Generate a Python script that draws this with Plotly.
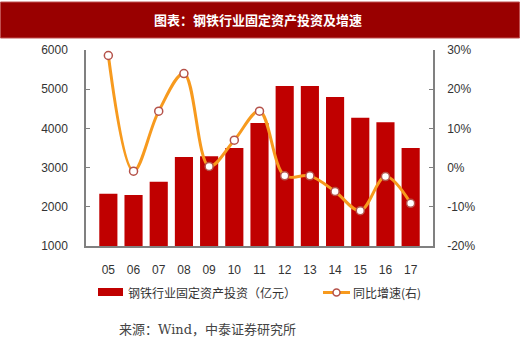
import plotly.graph_objects as go

years = ["05", "06", "07", "08", "09", "10", "11", "12", "13", "14", "15", "16", "17"]
invest = [2330, 2300, 2640, 3270, 3290, 3500, 4140, 5080, 5080, 4800, 4270, 4160, 3500]
growth = [28.6, -0.9, 14.4, 24.0, 0.3, 7.0, 14.4, -2.1, -2.1, -6.1, -11.0, -2.3, -9.1]
left_ticks = [1000, 2000, 3000, 4000, 5000, 6000]
right_ticks = [-20, -10, 0, 10, 20, 30]
bar_name = "钢铁行业固定资产投资（亿元）"
line_name = "同比增速(右)"

W, H = 520, 344
L, R, T, B = 86, 87, 50, 98
pw, ph = W - L - R, H - T - B

BAR_COLOR = "#C00000"
LINE_COLOR = "#F79A1E"
MARK_EDGE = "#B5524A"

def px(x):
    return (x - L) / pw

def py(y):
    return (H - B - y) / ph

fig = go.Figure()
fig.add_trace(go.Bar(x=years, y=invest, name=bar_name, showlegend=False,
                     marker=dict(color=BAR_COLOR, line=dict(width=0)), yaxis="y"))
fig.add_trace(go.Scatter(x=years, y=growth, name=line_name, yaxis="y2", showlegend=False,
                         mode="lines+markers", line=dict(color=LINE_COLOR, width=3, shape="spline", smoothing=1.0),
                         marker=dict(size=8, color="white", line=dict(color=MARK_EDGE, width=1.5))))

axis_common = dict(showline=True, linecolor="#808080", linewidth=1.5, ticks="inside", ticklen=4,
                   tickcolor="#808080", showgrid=False, zeroline=False,
                   tickfont=dict(family="Liberation Sans, Arial", size=12, color="#333333"))

shapes = [
    dict(type="rect", xref="paper", yref="paper", x0=px(0.5), x1=px(519.5), y0=py(38), y1=py(2),
         fillcolor="#990000", line=dict(color="#C05050", width=1), layer="above"),
    dict(type="rect", xref="paper", yref="paper", x0=px(98), x1=px(123), y0=py(296), y1=py(288),
         fillcolor=BAR_COLOR, line=dict(width=0)),
    dict(type="line", xref="paper", yref="paper", x0=px(323), x1=px(350), y0=py(292.5), y1=py(292.5),
         line=dict(color=LINE_COLOR, width=3)),
    dict(type="circle", xref="paper", yref="paper", x0=px(333), x1=px(340), y0=py(296), y1=py(289),
         fillcolor="white", line=dict(color=MARK_EDGE, width=1.5)),
]

annotations = [
    dict(text="<b>图表：钢铁行业固定资产投资及增速</b>", xref="paper", yref="paper", x=px(258), y=py(19),
         xanchor="center", yanchor="middle", showarrow=False,
         font=dict(family="Noto Sans CJK SC", size=13, color="white")),
    dict(text=bar_name, xref="paper", yref="paper", x=px(126), y=py(292.5),
         xanchor="left", yanchor="middle", showarrow=False,
         font=dict(family="Noto Sans CJK SC", size=12, color="#333333")),
    dict(text=line_name, xref="paper", yref="paper", x=px(351), y=py(292.5),
         xanchor="left", yanchor="middle", showarrow=False,
         font=dict(family="Noto Sans CJK SC", size=12, color="#333333")),
    dict(text="来源：Wind，中泰证券研究所", xref="paper", yref="paper", x=px(117), y=py(329),
         xanchor="left", yanchor="middle", showarrow=False,
         font=dict(family="DejaVu Serif, Noto Sans CJK SC", size=13, color="#444444")),
]

fig.update_layout(
    width=W, height=H, margin=dict(l=L, r=R, t=T, b=B),
    paper_bgcolor="white", plot_bgcolor="white",
    bargap=0.28,
    showlegend=False,
    xaxis=dict(showline=True, linecolor="#808080", linewidth=1.5, ticks="", showgrid=False,
               ticklabelstandoff=12,
               tickfont=dict(family="Liberation Sans, Arial", size=12, color="#333333")),
    yaxis=dict(range=[1000, 6000], tickvals=left_ticks, ticktext=[str(v) for v in left_ticks],
               ticklabelstandoff=14, **axis_common),
    yaxis2=dict(range=[-20, 30], overlaying="y", side="right", tickvals=right_ticks,
                ticktext=[f"{v}%" for v in right_ticks], ticklabelstandoff=10, **axis_common),
    shapes=shapes,
    annotations=annotations,
)

fig.write_html("out.html")
